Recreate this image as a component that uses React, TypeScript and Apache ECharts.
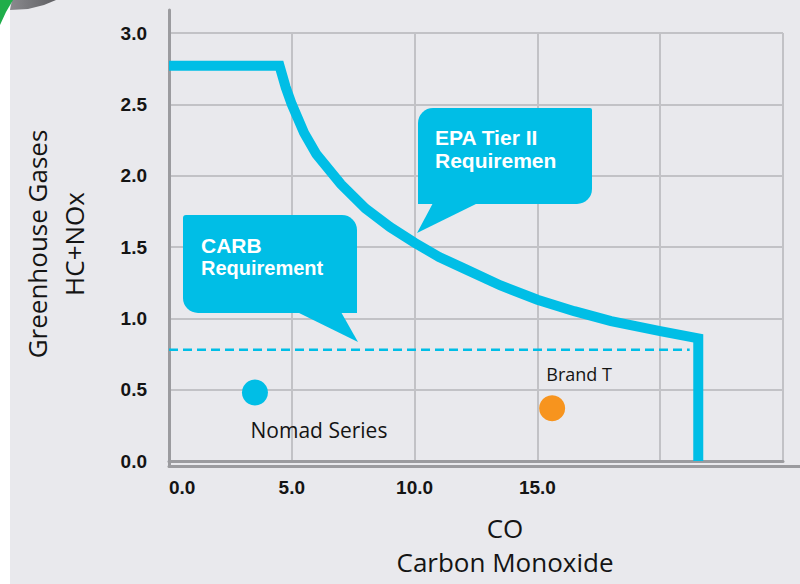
import React, { useEffect, useRef } from "react";
import * as echarts from "echarts";

// ---- data ----
const yTickStep = 0.5;
const yMax = 3;
const xTickStep = 5;
const xMax = 25;
const xLabelled = [0, 5, 10, 15];

const epaTierII: [number, number][] = [
  [0, 2.77],
  [4.5, 2.77],
  [4.75, 2.62],
  [5.0, 2.5],
  [5.5, 2.3],
  [6.0, 2.15],
  [7.0, 1.94],
  [8.0, 1.77],
  [9.0, 1.64],
  [10.0, 1.53],
  [11.0, 1.43],
  [12.0, 1.35],
  [13.5, 1.23],
  [15.0, 1.13],
  [16.5, 1.05],
  [18.0, 0.98],
  [20.0, 0.91],
  [21.55, 0.86],
  [21.55, 0],
];

const carbRequirement: [number, number][] = [
  [0, 0.78],
  [21.2, 0.78],
];

const nomadSeries: [number, number][] = [[3.5, 0.48]];
const brandT: [number, number][] = [[15.6, 0.37]];

const CYAN = "#00bee6";
const ORANGE = "#f7941e";
const GRID = "#c2c2c6";
const AXIS = "#9b9b9f";
const TXT = "#141414";
const HUMAN = "'Open Sans', 'Noto Sans', sans-serif";
const GROT = "'Liberation Sans', Arial, sans-serif";
const TOP = 100;

export default function App() {
  const ref = useRef<HTMLDivElement>(null);

  useEffect(() => {
    if (!ref.current) return;
    const chart = echarts.init(ref.current, undefined, { renderer: "svg" });

    const bubbleText = (text: string, x: number, y: number, size: number) => ({
      type: "text",
      z: TOP + 2,
      x,
      y,
      style: {
        text,
        fill: "#ffffff",
        fontFamily: GROT,
        fontWeight: "bold",
        fontSize: size,
        verticalAlign: "middle",
      },
    });

    const option: any = {
      animation: false,
      backgroundColor: "#e9e9ed",
      grid: [
        { left: 169, right: 17, top: 33, bottom: 118 },
        { left: 169, right: 0, top: 10, bottom: 118 },
      ],
      xAxis: [
        {
          gridIndex: 0,
          type: "value",
          min: 0,
          max: xMax,
          interval: xTickStep,
          name: "CO\nCarbon Monoxide",
          nameLocation: "middle",
          nameGap: 50,
          nameTextStyle: {
            fontFamily: HUMAN,
            fontSize: 26,
            lineHeight: 34,
            color: TXT,
            padding: [0, 0, 0, 58],
          },
          axisLine: { show: true, lineStyle: { color: AXIS, width: 3 } },
          axisTick: { show: false },
          axisLabel: {
            margin: 17,
            fontFamily: GROT,
            fontWeight: "bold",
            fontSize: 19,
            color: TXT,
            alignMinLabel: "left",
            formatter: (v: number) =>
              xLabelled.indexOf(v) >= 0 ? v.toFixed(1) : "",
          },
          splitLine: { show: true, lineStyle: { color: GRID, width: 2 } },
        },
        {
          gridIndex: 1,
          type: "value",
          min: 0,
          max: 1,
          axisLine: { show: true, lineStyle: { color: AXIS, width: 3 } },
          axisTick: { show: false },
          axisLabel: { show: false },
          splitLine: { show: false },
        },
      ],
      yAxis: [
        {
          gridIndex: 0,
          type: "value",
          min: 0,
          max: yMax,
          interval: yTickStep,
          name: "Greenhouse Gases\nHC+NOx",
          nameLocation: "middle",
          nameRotate: 90,
          nameGap: 77,
          nameTextStyle: {
            fontFamily: HUMAN,
            fontSize: 26,
            lineHeight: 37,
            color: TXT,
            padding: [0, 0, 0, 6],
          },
          axisLine: { show: true, lineStyle: { color: AXIS, width: 3 } },
          axisTick: { show: false },
          axisLabel: {
            margin: 22,
            fontFamily: GROT,
            fontWeight: "bold",
            fontSize: 19,
            color: TXT,
            formatter: (v: number) => v.toFixed(1),
          },
          splitLine: { show: true, lineStyle: { color: GRID, width: 2 } },
        },
        {
          gridIndex: 1,
          type: "value",
          min: 0,
          max: 1,
          axisLine: { show: true, lineStyle: { color: AXIS, width: 3 } },
          axisTick: { show: false },
          axisLabel: { show: false },
          splitLine: { show: false },
        },
      ],
      series: [
        {
          name: "EPA Tier II Requirement",
          type: "line",
          data: epaTierII,
          symbol: "none",
          clip: false,
          lineStyle: { color: CYAN, width: 10, join: "miter", cap: "butt" },
          z: 3,
        },
        {
          name: "CARB Requirement",
          type: "line",
          data: carbRequirement,
          symbol: "none",
          lineStyle: { color: CYAN, width: 2.5, type: [9, 5] },
          z: 3,
        },
        {
          name: "Nomad Series",
          type: "scatter",
          data: nomadSeries,
          symbolSize: 26,
          itemStyle: { color: CYAN, opacity: 1 },
          label: {
            show: true,
            formatter: "Nomad Series",
            position: "inside",
            offset: [64, 37],
            fontFamily: HUMAN,
            fontSize: 21,
            color: TXT,
          },
          z: 4,
        },
        {
          name: "Brand T",
          type: "scatter",
          data: brandT,
          symbolSize: 26,
          itemStyle: { color: ORANGE, opacity: 1 },
          label: {
            show: true,
            formatter: "Brand T",
            position: "inside",
            offset: [27, -34],
            fontFamily: HUMAN,
            fontSize: 18,
            color: TXT,
          },
          z: 4,
        },
      ],
      graphic: [
        {
          type: "rect",
          z: 0,
          shape: { x: 0, y: 0, width: 10, height: 584 },
          style: { fill: "#ffffff" },
        },
        {
          type: "polygon",
          z: 1,
          shape: {
            points: [
              [12, 0],
              [56, 0],
              [44, 5],
              [28, 9],
              [10, 10],
            ],
          },
          style: {
            fill: new echarts.graphic.LinearGradient(0, 0, 1, 0, [
              { offset: 0, color: "#8a8a8e" },
              { offset: 1, color: "#5f5f63" },
            ]),
          },
        },
        {
          type: "polygon",
          z: 1,
          shape: {
            points: [
              [0, 0],
              [13, 0],
              [6, 12],
              [0, 25],
            ],
          },
          style: { fill: "#1fae4a" },
        },
        // CARB callout
        {
          type: "rect",
          z: TOP,
          shape: { x: 183, y: 215, width: 174, height: 98, r: [3, 15, 0, 15] },
          style: { fill: CYAN },
        },
        {
          type: "polygon",
          z: TOP,
          shape: { points: [[297, 312], [341, 312], [358, 342]] },
          style: { fill: CYAN },
        },
        bubbleText("CARB", 201, 245, 21),
        bubbleText("Requirement", 201, 268, 20),
        // EPA callout
        {
          type: "rect",
          z: TOP,
          shape: { x: 418, y: 108, width: 174, height: 96, r: [15, 2, 15, 0] },
          style: { fill: CYAN },
        },
        {
          type: "polygon",
          z: TOP,
          shape: { points: [[433, 203], [478, 203], [417, 233]] },
          style: { fill: CYAN },
        },
        bubbleText("EPA Tier II", 435, 137, 21),
        bubbleText("Requiremen", 435, 160, 21),
      ],
    };

    chart.setOption(option);
    return () => chart.dispose();
  }, []);

  return (
    <div
      ref={ref}
      style={{ position: "fixed", left: 0, top: 0, width: 800, height: 584 }}
    />
  );
}
